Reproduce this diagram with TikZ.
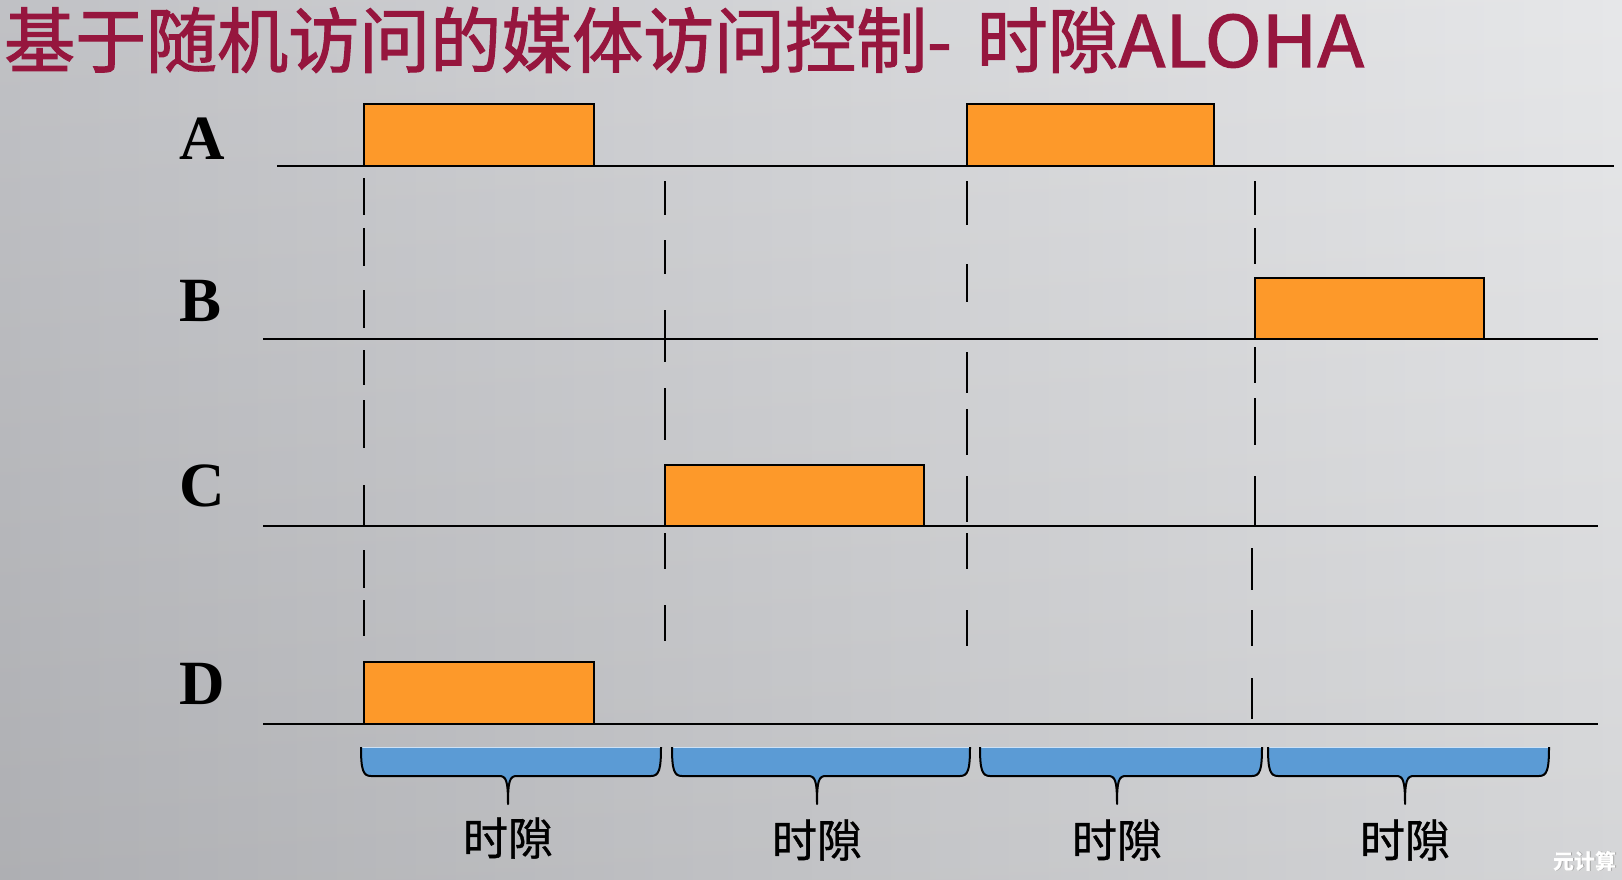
\documentclass[tikz,border=0pt]{standalone}
\usepackage{fontspec}
\usepackage{graphicx}
\newfontfamily\cjk{Noto Sans CJK SC}
\newfontfamily\cjktitle[FakeBold=1.6]{Noto Sans CJK SC}
\newfontfamily\cjklbl[FakeBold=0.8]{Noto Sans CJK SC}
\newfontfamily\rowf{Liberation Serif}
\definecolor{titlered}{RGB}{150,22,62}
\definecolor{boxorange}{RGB}{253,153,42}
\definecolor{braceblue}{RGB}{91,155,213}
\definecolor{bracetop}{RGB}{205,225,245}
\definecolor{bgL}{RGB}{188,189,193}
\definecolor{bgR}{RGB}{229,230,232}
\tikzset{
  axisline/.style={line width=2pt, black},
  slotbox/.style={line width=2pt, draw=black, fill=boxorange},
  dashseg/.style={line width=2.4pt, black},
  rowlbl/.style={font=\rowf\bfseries\fontsize{63}{63}\selectfont, inner sep=0pt},
  slotlbl/.style={font=\cjklbl\fontsize{45}{45}\selectfont, inner sep=0pt},
  braceline/.style={line width=2pt, black, line join=round},
}
\newcommand\slotbrace[3]{%
  \fill[braceblue] (#1,747) .. controls (#1,770) and (#1+2,776) .. (#1+10,776) -- (#3-9,776)
     .. controls (#3-2,776) and (#3,780) .. (#3,804)
     .. controls (#3,780) and (#3+2,776) .. (#3+9,776) -- (#2-10,776)
     .. controls (#2-2,776) and (#2,770) .. (#2,747) -- cycle;
  \draw[bracetop, line width=1.5pt] (#1+1,747.5) -- (#2-1,747.5);
  \draw[braceline] (#1,747) .. controls (#1,770) and (#1+2,776) .. (#1+10,776) -- (#3-9,776)
     .. controls (#3-2,776) and (#3,780) .. (#3,804)
     .. controls (#3,780) and (#3+2,776) .. (#3+9,776) -- (#2-10,776)
     .. controls (#2-2,776) and (#2,770) .. (#2,747);
}
\begin{document}
\begin{tikzpicture}[x=1pt,y=-1pt]
\useasboundingbox (0,0) rectangle (1622,880);
\shade[left color=bgL, right color=bgR] (0,0) rectangle (1622,880);
\shade[top color=white, bottom color=black, opacity=0.07] (0,0) rectangle (1622,880);

% title
\node[anchor=base west, inner sep=0pt, text=titlered, font=\cjktitle\fontsize{71}{71}\selectfont] (title) at (4,67) {基于随机访问的媒体访问控制-\hspace{0.35em}时隙\scalebox{1.08}[1]{ALOHA}};

% row labels
\node[rowlbl] (lA) at (202,139) {A};
\node[rowlbl] (lB) at (201,301) {B};
\node[rowlbl] (lC) at (202,486) {C};
\node[rowlbl] (lD) at (202,684) {D};

% dashed slot boundaries (drawn as segments)
\foreach \a/\b in {178/215, 228/266, 290/328, 350/385, 400/448, 485/525, 550/588, 600/636}
  \draw[dashseg] (364,\a) -- (364,\b);
\foreach \a/\b in {181/215, 240/274, 310/362, 388/440, 533/569, 605/641}
  \draw[dashseg] (665,\a) -- (665,\b);
\foreach \a/\b in {181/225, 264/302, 352/393, 409/455, 476/522, 533/569, 610/646}
  \draw[dashseg] (967,\a) -- (967,\b);
\foreach \a/\b in {181/215, 228/264, 347/383, 398/445, 476/525}
  \draw[dashseg] (1255,\a) -- (1255,\b);
\foreach \a/\b in {548/590, 610/646, 678/719}
  \draw[dashseg] (1252,\a) -- (1252,\b);

% station lines
\draw[axisline] (277,165.5) -- (1614,165.5);
\draw[axisline] (263,339) -- (1598,339);
\draw[axisline] (263,525.5) -- (1598,525.5);
\draw[axisline] (263,724) -- (1598,724);

% transmissions
\draw[slotbox] (364,104.5) rectangle (594,165.5);
\draw[slotbox] (967,104.5) rectangle (1214,165.5);
\draw[slotbox] (1255,278) rectangle (1484,339);
\draw[slotbox] (665,464.5) rectangle (924,525.5);
\draw[slotbox] (364,662) rectangle (594,724);

% slot braces
\slotbrace{361}{661}{508}
\slotbrace{672}{970}{817}
\slotbrace{980}{1262}{1117}
\slotbrace{1268}{1549}{1405}

\node[slotlbl] (s1) at (508,838) {时隙};
\node[slotlbl] (s2) at (817,840) {时隙};
\node[slotlbl] (s3) at (1117,840) {时隙};
\node[slotlbl] (s4) at (1405,840) {时隙};

% watermark
\node[font=\cjk\bfseries\fontsize{21}{21}\selectfont, text=gray!70, inner sep=0pt] (wmsh) at (1585.8,861.8) {元计算};
\node[font=\cjk\bfseries\fontsize{21}{21}\selectfont, text=white, inner sep=0pt] (wm) at (1585,861) {元计算};
\end{tikzpicture}
\end{document}
